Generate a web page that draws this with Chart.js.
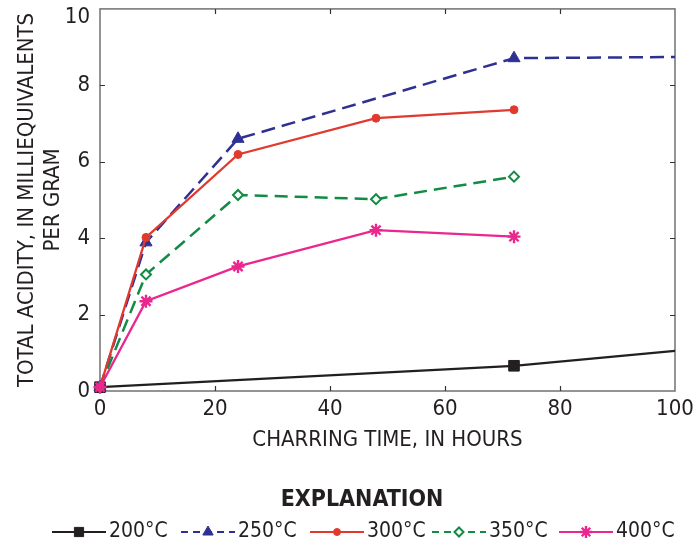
<!DOCTYPE html>
<html><head><meta charset="utf-8">
<script src="https://cdn.jsdelivr.net/npm/chart.js@4/dist/chart.umd.min.js"></script>
<style>html,body{margin:0;padding:0;background:#fff}#wrap{width:694px;height:548px}</style>
</head><body><div id="wrap"><canvas id="c" width="694" height="548"></canvas></div>
<script>
// ---- data ----
const hours200 = [0, 72, 100];
const acid200 = [0.1, 0.66, 1.05];
const hours250 = [0, 8, 24, 72, 100];
const acid250 = [0.1, 3.89, 6.6, 8.71, 8.74];
const hours = [0, 8, 24, 48, 72];
const acid300 = [0.1, 4.02, 6.19, 7.14, 7.36];
const acid350 = [0.1, 3.05, 5.13, 5.02, 5.61];
const acid400 = [0.1, 2.35, 3.26, 4.21, 4.04];
const seriesLabels = ['200°C', '250°C', '300°C', '350°C', '400°C'];
const xTickLabels = ['0', '20', '40', '60', '80', '100'];
const yTickLabels = ['0', '2', '4', '6', '8', '10'];
const xTitle = 'CHARRING TIME, IN HOURS';
const yTitle = ['TOTAL ACIDITY, IN MILLIEQUIVALENTS', 'PER GRAM'];
const legendTitle = 'EXPLANATION';

const FAM = '"Liberation Sans Narrow", "Arial Narrow", "DejaVu Sans Condensed", sans-serif';
const TXT = '#231f20';

function pts(xs, ys) { return xs.map((x, i) => ({ x: x, y: ys[i] })); }
function noMarkerAt100(r) { return (c) => (c.raw && c.raw.x === 100 ? 0 : r); }

const datasets = [
  { label: seriesLabels[0], data: pts(hours200, acid200), borderColor: '#231f20', backgroundColor: '#231f20',
    borderWidth: 2.2, pointStyle: 'rect', pointRadius: noMarkerAt100(7.5), pointBorderWidth: 1, order: 5, legendDash: [], legendRadius: 6.5 },
  { label: seriesLabels[1], data: pts(hours250, acid250), borderColor: '#2e3192', backgroundColor: '#2e3192',
    borderWidth: 2.5, borderDash: [14, 7], pointStyle: 'triangle', pointRadius: noMarkerAt100(7), pointBorderWidth: 1, order: 4, legendDash: [7, 5], legendRadius: 6 },
  { label: seriesLabels[2], data: pts(hours, acid300), borderColor: '#e03a2f', backgroundColor: '#e03a2f',
    borderWidth: 2.3, pointStyle: 'circle', pointRadius: 4, pointBorderWidth: 1, order: 2, legendDash: [], legendRadius: 3.5 },
  { label: seriesLabels[3], data: pts(hours, acid350), borderColor: '#108c45', backgroundColor: '#ffffff',
    borderWidth: 2.5, borderDash: [13, 7], pointStyle: 'rectRot', pointRadius: 5, pointBorderWidth: 2, order: 3, legendDash: [7, 5], legendRadius: 4.5 },
  { label: seriesLabels[4], data: pts(hours, acid400), borderColor: '#ec268f', backgroundColor: '#ec268f',
    borderWidth: 2.3, pointStyle: 'star', pointRadius: 6.5, pointBorderWidth: 2.4, order: 1, legendDash: [], legendRadius: 6 }
];
datasets.forEach(d => { d.clip = false; d.tension = 0; d.pointBorderColor = d.borderColor; d.pointBackgroundColor = d.backgroundColor; d.fill = false; });

const framePlugin = {
  id: 'frame',
  beforeDatasetsDraw(chart) {
    const { ctx, chartArea: a, scales: { x, y } } = chart;
    ctx.save();
    ctx.strokeStyle = '#7a7a7a';
    ctx.lineWidth = 1.6;
    ctx.strokeRect(a.left, a.top, a.right - a.left, a.bottom - a.top);
    ctx.strokeStyle = '#333';
    ctx.lineWidth = 1.2;
    const L = 5;
    x.ticks.forEach(t => {
      if (t.value <= x.min || t.value >= x.max) return;
      const px = Math.round(x.getPixelForValue(t.value)) + 0.5;
      ctx.beginPath(); ctx.moveTo(px, a.bottom); ctx.lineTo(px, a.bottom - L);
      ctx.moveTo(px, a.top); ctx.lineTo(px, a.top + L); ctx.stroke();
    });
    y.ticks.forEach(t => {
      if (t.value <= y.min || t.value >= y.max) return;
      const py = Math.round(y.getPixelForValue(t.value)) + 0.5;
      ctx.beginPath(); ctx.moveTo(a.left, py); ctx.lineTo(a.left + L, py);
      ctx.moveTo(a.right, py); ctx.lineTo(a.right - L, py); ctx.stroke();
    });
    ctx.restore();
  }
};

const legendPlugin = {
  id: 'explanation',
  afterDraw(chart) {
    const ctx = chart.ctx;
    ctx.save();
    ctx.fillStyle = TXT;
    ctx.font = 'bold 23px ' + FAM;
    ctx.textAlign = 'center';
    ctx.textBaseline = 'middle';
    ctx.fillText(legendTitle, 362, 500);
    const starts = [52, 181, 310, 432, 559];
    const cy = 532;
    chart.data.datasets.forEach((d, i) => {
      const x0 = starts[i], x1 = x0 + 54;
      ctx.strokeStyle = d.borderColor;
      ctx.lineWidth = 2;
      ctx.setLineDash(d.legendDash);
      ctx.beginPath(); ctx.moveTo(x0, cy); ctx.lineTo(x1, cy); ctx.stroke();
      ctx.setLineDash([]);
      ctx.fillStyle = d.backgroundColor;
      ctx.lineWidth = d.pointBorderWidth;
      Chart.helpers.drawPoint(ctx, { pointStyle: d.pointStyle, radius: d.legendRadius, borderWidth: d.pointBorderWidth, rotation: 0 }, (x0 + x1) / 2, cy);
      ctx.fillStyle = TXT;
      ctx.font = '21px ' + FAM;
      ctx.textAlign = 'left';
      ctx.fillText(d.label, x1 + 3, cy);
    });
    ctx.restore();
  }
};

new Chart(document.getElementById('c'), {
  type: 'line',
  data: { datasets: datasets },
  options: {
    responsive: false,
    devicePixelRatio: 1,
    animation: false,
    layout: { padding: { top: 7, right: 19, left: 0, bottom: 0 } },
    plugins: { legend: { display: false }, tooltip: { enabled: false } },
    scales: {
      x: {
        type: 'linear', min: 0, max: 100,
        grid: { display: false, drawTicks: false },
        border: { display: false },
        ticks: {
          stepSize: 20, padding: 5, color: TXT, font: { family: FAM, size: 22 },
          callback: (v) => xTickLabels[Math.round(v / 20)]
        },
        title: { display: true, text: xTitle, color: TXT, font: { family: FAM, size: 22 }, padding: { top: 0, bottom: 95 } },
        afterFit(s) { s.height = 157; s.paddingLeft = 0; s.paddingRight = 0; }
      },
      y: {
        type: 'linear', min: 0, max: 10,
        grid: { display: false, drawTicks: false },
        border: { display: false },
        ticks: {
          stepSize: 2, padding: 10, color: TXT,
          font: (c) => ({ family: FAM, size: 22, lineHeight: (c.tick && c.tick.value === 10) ? '16px' : 1.2 }),
          callback: (v) => { const l = yTickLabels[Math.round(v / 2)]; return v === 10 ? ['', l] : l; }
        },
        title: { display: true, text: yTitle, color: TXT, font: { family: FAM, size: 22, lineHeight: 1.2 }, padding: { top: 14, bottom: 0 } },
        afterFit(s) { s.width = 100; s.paddingTop = 0; s.paddingBottom = 0; }
      }
    }
  },
  plugins: [framePlugin, legendPlugin]
});
</script>
</body></html>
